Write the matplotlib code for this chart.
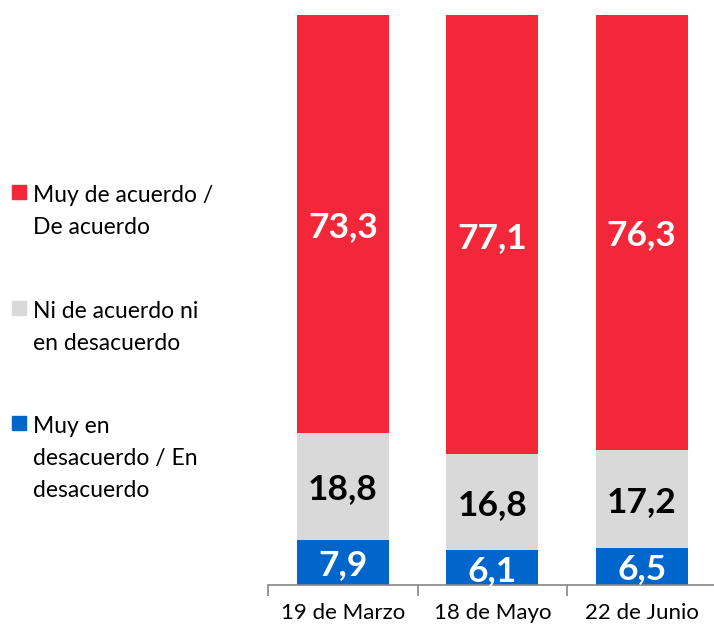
import matplotlib
matplotlib.use("Agg")
import matplotlib.pyplot as plt
from matplotlib.patches import Rectangle
import numpy as np

categories = ["19 de Marzo", "18 de Mayo", "22 de Junio"]
desacuerdo = [7.9, 6.1, 6.5]
neutral = [18.8, 16.8, 17.2]
acuerdo = [73.3, 77.1, 76.3]
series_labels = ["Muy de acuerdo /\nDe acuerdo", "Ni de acuerdo ni\nen desacuerdo", "Muy en\ndesacuerdo / En\ndesacuerdo"]

RED = "#F2283A"
GREY = "#D9D9D9"
BLUE = "#0066CC"
FONT = "Lato"

plt.rcParams['font.family'] = [FONT, 'DejaVu Sans']

fig = plt.figure(figsize=(7.14, 6.26), dpi=100)
ax = fig.add_axes([268/714, 41/626, 448.5/714, 570/626])

x = np.arange(len(categories))
w = 0.615
ax.bar(x, desacuerdo, w, color=BLUE)
ax.bar(x, neutral, w, bottom=desacuerdo, color=GREY)
bot3 = np.array(desacuerdo) + np.array(neutral)
ax.bar(x, acuerdo, w, bottom=bot3, color=RED)

def fmt(v):
    return f"{v:.1f}".replace(".", ",")

LS = 25.5
for i in range(len(categories)):
    ax.text(x[i], desacuerdo[i] / 2, fmt(desacuerdo[i]), ha='center', va='center_baseline',
            color='white', fontsize=LS, fontweight='bold')
    ax.text(x[i], desacuerdo[i] + neutral[i] / 2, fmt(neutral[i]), ha='center', va='center_baseline',
            color='black', fontsize=LS, fontweight='bold')
    ax.text(x[i], bot3[i] + acuerdo[i] / 2, fmt(acuerdo[i]), ha='center', va='center_baseline',
            color='white', fontsize=LS, fontweight='bold')

ax.set_xlim(-0.5, 2.5)
ax.set_ylim(0, 100)
for s in ['top', 'right', 'left']:
    ax.spines[s].set_visible(False)
ax.spines['bottom'].set_color('#868686')
ax.spines['bottom'].set_linewidth(1.2)
ax.set_yticks([])
ax.set_xticks(x)
ax.set_xticklabels(categories, fontsize=16)
ax.tick_params(axis='x', which='major', length=0, pad=13)
ax.set_xticks(np.arange(-0.5, 3.0, 1.0), minor=True)
ax.tick_params(axis='x', which='minor', length=8, color='#868686', width=1.2)

# manual legend
colors = [RED, GREY, BLUE]
tops = [192, 308, 423]
for c, ty, lab in zip(colors, tops, series_labels):
    fig.patches.append(Rectangle((12/714, 1 - (ty + 7)/626), 14/714, 14/626,
                                 transform=fig.transFigure, color=c, figure=fig))
    fig.text(33/714, 1 - (ty - 7)/626, lab, ha='left', va='top', fontsize=16.5,
             linespacing=1.65, color='black')

fig.savefig("out.png", dpi=100)
